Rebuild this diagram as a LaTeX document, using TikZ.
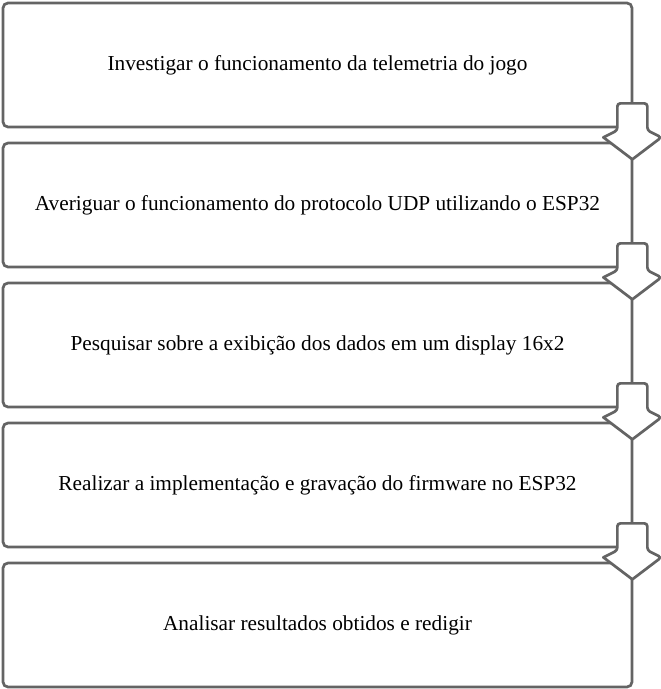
\documentclass[tikz,border=0pt]{standalone}
\usepackage{fontspec}
\setmainfont{Liberation Serif}

\tikzset{
    stepbox/.style={draw=linegray, line width=2.7pt, rounded corners=5pt, fill=white,
        minimum width=629pt, minimum height=124pt, inner sep=0pt, font=\fontsize{21.3}{24}\selectfont},
    downarrow/.style={draw=linegray, line width=2.7pt, fill=white, rounded corners=3pt, line join=round}
}
\definecolor{linegray}{RGB}{100,100,100}

\begin{document}
\begin{tikzpicture}[x=1pt, y=-1pt]
    \useasboundingbox (0,0) rectangle (661,689);
    \def\period {140}
    \foreach \i/\txt in {1/Investigar o funcionamento da telemetria do jogo,
                         2/Averiguar o funcionamento do protocolo UDP utilizando o ESP32,
                         3/Pesquisar sobre a exibição dos dados em um display 16x2,
                         4/Realizar a implementação e gravação do firmware no ESP32,
                         5/Analisar resultados obtidos e redigir}
    {
        \node[stepbox] (step\i) at (317.5, {65 + \period*(\i-1)}) {\raisebox{2pt}{\txt}};
    }
    % block arrows between the steps
    \foreach \i in {1,...,4}
    {
        \draw[downarrow] ([xshift=-16pt, yshift=25pt]step\i.south east) -- ++(30,0) -- ++(0,27)
            -- ++(14,7) [sharp corners]-- ++(-29,22) -- ++(-29,-22) [rounded corners=3pt]-- ++(14,-7) -- cycle;
    }
\end{tikzpicture}
\end{document}
